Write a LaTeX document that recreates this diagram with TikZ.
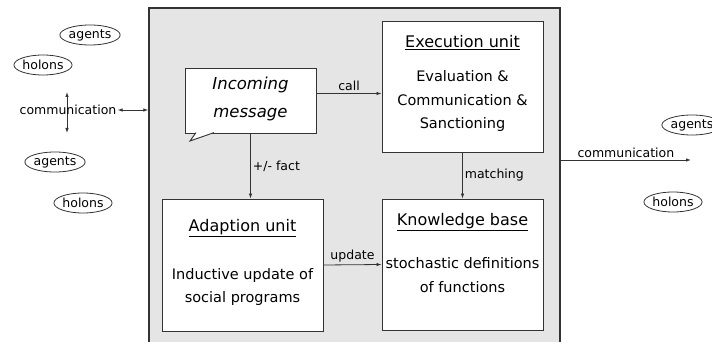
\documentclass[tikz,border=0pt]{standalone}
\usepackage{fontspec}
\setmainfont{DejaVu Sans}
\usepackage{tikz}
\usetikzlibrary{shapes.geometric, arrows.meta, positioning}
\definecolor{myframe}{rgb}{0.90, 0.90, 0.90}
\definecolor{myline}{rgb}{0.2, 0.2, 0.2}
\tikzstyle{unit} = [rectangle, draw=myline, line width=0.9pt, fill=white, minimum width=161pt, minimum height=131pt, inner sep=0pt]
\tikzstyle{arrow} = [line width=0.8pt, draw=myline, -{Latex[length=5pt,width=3.5pt]}]
\tikzstyle{biarrow} = [line width=0.8pt, draw=myline, {Latex[length=5pt,width=3.5pt]}-{Latex[length=5pt,width=3.5pt]}]

\begin{document}
\begin{tikzpicture}[x=1pt, y=-1pt,
    entity/.style={ellipse, draw=myline, line width=0.8pt, minimum width=58pt, minimum height=20pt, inner sep=0pt, font=\fontsize{12.5}{14}\selectfont},
    title/.style={font=\fontsize{16}{18}\selectfont},
    body/.style={align=center, font=\fontsize{14.5}{23.5}\selectfont},
    lbl/.style={font=\fontsize{12.5}{14}\selectfont, inner sep=2pt}]
    \useasboundingbox (0,0) rectangle (712,342);
    % system frame
    \node[draw=myline, line width=1.5pt, fill=myframe, minimum width=411pt, minimum height=340pt, inner sep=0pt] (frame) at (354.5,178) {};
    % units
    \node[unit] (exec) at (462.5,86.5) {};
    \node[unit] (kb) at (462.5,264.5) {};
    \node[unit, minimum height=132pt] (adapt) at (242.5,265) {};
    \node[unit, minimum width=131pt, minimum height=65pt] (msg) at (250.5,100.5) {};
    \draw[myline, line width=0.9pt, fill=white] (196,132.6) -- (190,141) -- (214,132.6);
    \node[body, font=\fontsize{16.5}{28}\selectfont\itshape] (msgtext) at (250.5,99) {Incoming\\message};
    \node[title] (exectitle) at (462.5,43) {\underline{Execution unit}};
    \node[body] (exectext) at (462.5,101) {Evaluation \&\\Communication \&\\Sanctioning};
    \node[title] (kbtitle) at (462.5,222) {\underline{Knowledge base}};
    \node[body] (kbtext) at (462.5,275) {stochastic definitions\\of functions};
    \node[title] (adapttitle) at (242.5,228) {\underline{Adaption unit}};
    \node[body] (adapttext) at (242.5,287) {Inductive update of\\social programs};
    % internal flow
    \draw[arrow] ([yshift=7pt]msg.east) -- ([yshift=7pt]msg.east -| exec.west) node[lbl, midway, above] {call};
    \draw[arrow] (msg.south) -- (msg.south |- adapt.north) node[lbl, midway, right] {+/- fact};
    \draw[arrow] (exec.south) -- (kb.north) node[lbl, midway, right] {matching};
    \draw[arrow] (adapt.east) -- (kb.west) node[lbl, midway, above] {update};
    % left side
    \node[entity] (agentsA) at (90,35) {agents};
    \node[entity] (holonsA) at (43,65) {holons};
    \node[entity] (agentsB) at (55,162) {agents};
    \node[entity] (holonsB) at (83,203) {holons};
    \coordinate (vtop) at (67,92);
    \coordinate (vbot) at (67,133);
    \draw[biarrow] (vtop) -- (vbot);
    \node[lbl, inner sep=1pt] (commA) at (68,110) {communication};
    \draw[biarrow] (commA.east) -- (commA.east -| frame.west);
    % right side
    \node[entity] (agentsC) at (692,125) {agents};
    \node[entity] (holonsC) at (673,202) {holons};
    \coordinate (rend) at (691,160);
    \draw[arrow] (rend -| frame.east) -- (rend) node[lbl, midway, above] {communication};
\end{tikzpicture}
\end{document}
